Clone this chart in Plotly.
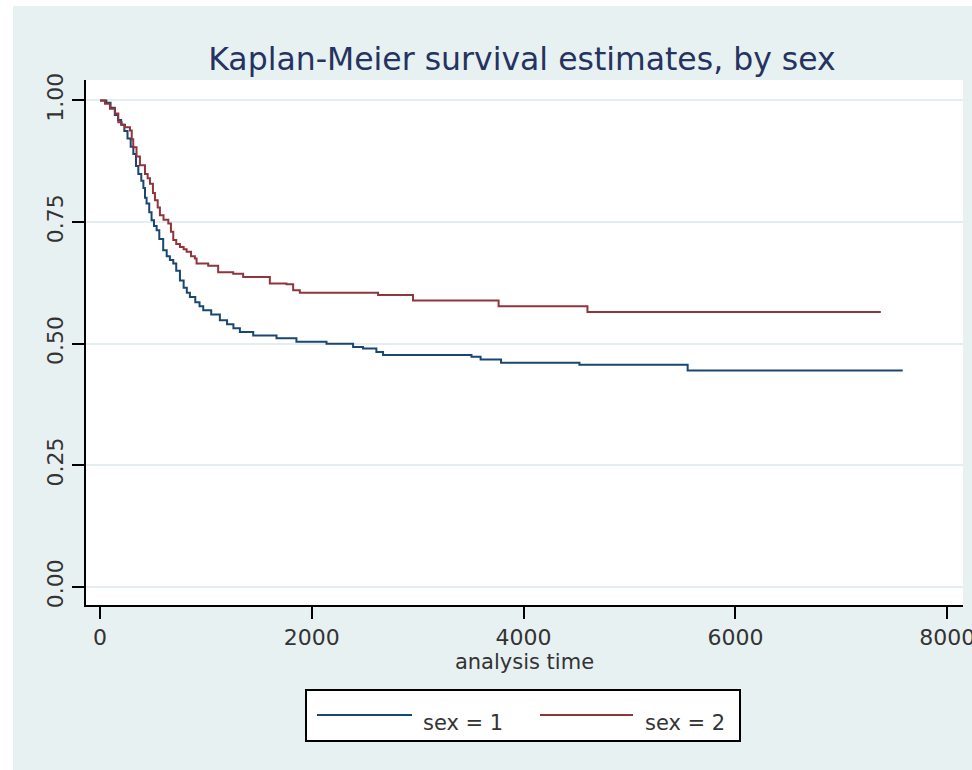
import plotly.graph_objects as go

# Kaplan-Meier estimates
time_sex1 = [0, 60, 100, 140, 170, 200, 230, 260, 290, 315, 340, 362, 390, 410, 425, 440,
             465, 487, 510, 535, 560, 597, 630, 660, 692, 720, 755, 790, 820, 849, 900,
             940, 975, 1050, 1132, 1200, 1260, 1321, 1447, 1667, 1855, 2139, 2390, 2484,
             2610, 2673, 3508, 3594, 3787, 4527, 5549, 7580]
surv_sex1 = [1.0, 0.995, 0.985, 0.97, 0.96, 0.95, 0.937, 0.922, 0.905, 0.89, 0.865, 0.849,
             0.835, 0.82, 0.80, 0.788, 0.77, 0.754, 0.742, 0.733, 0.715, 0.692, 0.68, 0.672,
             0.665, 0.65, 0.63, 0.615, 0.605, 0.596, 0.585, 0.577, 0.569, 0.56, 0.548, 0.54,
             0.532, 0.524, 0.517, 0.511, 0.504, 0.500, 0.493, 0.490, 0.483, 0.477, 0.473,
             0.4675, 0.461, 0.457, 0.445, 0.445]

time_sex2 = [0, 47, 94, 142, 173, 205, 236, 283, 300, 314, 345, 377, 425, 450, 472, 500,
             519, 545, 566, 600, 645, 670, 692, 720, 755, 790, 818, 860, 896, 912, 1022,
             1116, 1258, 1352, 1604, 1761, 1824, 1887, 2626, 2956, 3764, 4603, 7373]
surv_sex2 = [1.0, 0.993, 0.983, 0.973, 0.955, 0.95, 0.945, 0.938, 0.92, 0.904, 0.885, 0.867,
             0.849, 0.84, 0.829, 0.81, 0.795, 0.78, 0.764, 0.755, 0.747, 0.73, 0.713, 0.705,
             0.699, 0.694, 0.689, 0.68, 0.675, 0.665, 0.66, 0.647, 0.644, 0.637, 0.624,
             0.622, 0.610, 0.605, 0.600, 0.589, 0.577, 0.565, 0.565]

series_names = ["sex = 1", "sex = 2"]
x_ticks = [0, 2000, 4000, 6000, 8000]
y_ticks = [0.0, 0.25, 0.5, 0.75, 1.0]
y_tick_labels = ["0.00", "0.25", "0.50", "0.75", "1.00"]

BLUE = "#1a476f"
RED = "#90353b"
BG = "#e8f1f2"
FONT = "DejaVu Sans, Verdana, sans-serif"

W, H = 972, 770
L, R, T, B = 86, 9, 80, 165
PW = W - L - R
PH = H - T - B


def px(xp):
    return (xp - L) / PW


def py(yp):
    return (H - B - yp) / PH


fig = go.Figure()
fig.add_trace(go.Scatter(x=time_sex1, y=surv_sex1, mode="lines", line_shape="hv",
                         line=dict(color=BLUE, width=2), name=series_names[0]))
fig.add_trace(go.Scatter(x=time_sex2, y=surv_sex2, mode="lines", line_shape="hv",
                         line=dict(color=RED, width=2), name=series_names[1]))

shapes = [
    # white outer border of the image
    dict(type="rect", xref="paper", yref="paper", x0=px(0), x1=px(W), y0=py(0), y1=py(6),
         fillcolor="white", line=dict(width=0), layer="below"),
    dict(type="rect", xref="paper", yref="paper", x0=px(0), x1=px(13), y0=py(H), y1=py(0),
         fillcolor="white", line=dict(width=0), layer="below"),
    # legend box
    dict(type="rect", xref="paper", yref="paper", x0=px(306), x1=px(740), y0=py(741), y1=py(690),
         fillcolor="white", line=dict(color="black", width=2)),
    dict(type="line", xref="paper", yref="paper", x0=px(317), x1=px(412), y0=py(715), y1=py(715),
         line=dict(color=BLUE, width=2)),
    dict(type="line", xref="paper", yref="paper", x0=px(540), x1=px(633), y0=py(715), y1=py(715),
         line=dict(color=RED, width=2)),
]

annotations = [
    dict(text=series_names[0], xref="paper", yref="paper", x=px(421), y=py(723),
         xanchor="left", yanchor="middle", showarrow=False,
         font=dict(family=FONT, size=21, color="#333333")),
    dict(text=series_names[1], xref="paper", yref="paper", x=px(643), y=py(723),
         xanchor="left", yanchor="middle", showarrow=False,
         font=dict(family=FONT, size=21, color="#333333")),
]

fig.update_layout(
    width=W, height=H,
    margin=dict(l=L, r=R, t=T, b=B, pad=0, autoexpand=False),
    paper_bgcolor=BG, plot_bgcolor="white",
    showlegend=False,
    title=dict(text="Kaplan-Meier survival estimates, by sex", x=522 / W, xanchor="center",
               y=1 - 59 / H, yanchor="middle",
               font=dict(family=FONT, size=31.5, color="#24335f")),
    shapes=shapes, annotations=annotations,
)

fig.update_xaxes(
    range=[-132, 8149], tickvals=x_ticks, ticktext=[str(v) for v in x_ticks],
    ticklabeloverflow="allow", automargin=False,
    showgrid=False, zeroline=False,
    showline=True, linecolor="black", linewidth=2,
    ticks="outside", ticklen=12, tickwidth=2, tickcolor="black",
    tickfont=dict(family=FONT, size=22, color="#333333"),
    title=dict(text="analysis time", standoff=0,
               font=dict(family=FONT, size=21, color="#333333")),
)
fig.update_yaxes(
    range=[-0.037, 1.042], tickvals=y_ticks, ticktext=y_tick_labels, tickangle=-90,
    automargin=False,
    showgrid=True, gridcolor="#e4eef0", gridwidth=2, zeroline=False,
    showline=True, linecolor="black", linewidth=2,
    ticks="outside", ticklen=12, tickwidth=2, tickcolor="black",
    tickfont=dict(family=FONT, size=22, color="#333333"),
)

fig.write_html("out.html")
